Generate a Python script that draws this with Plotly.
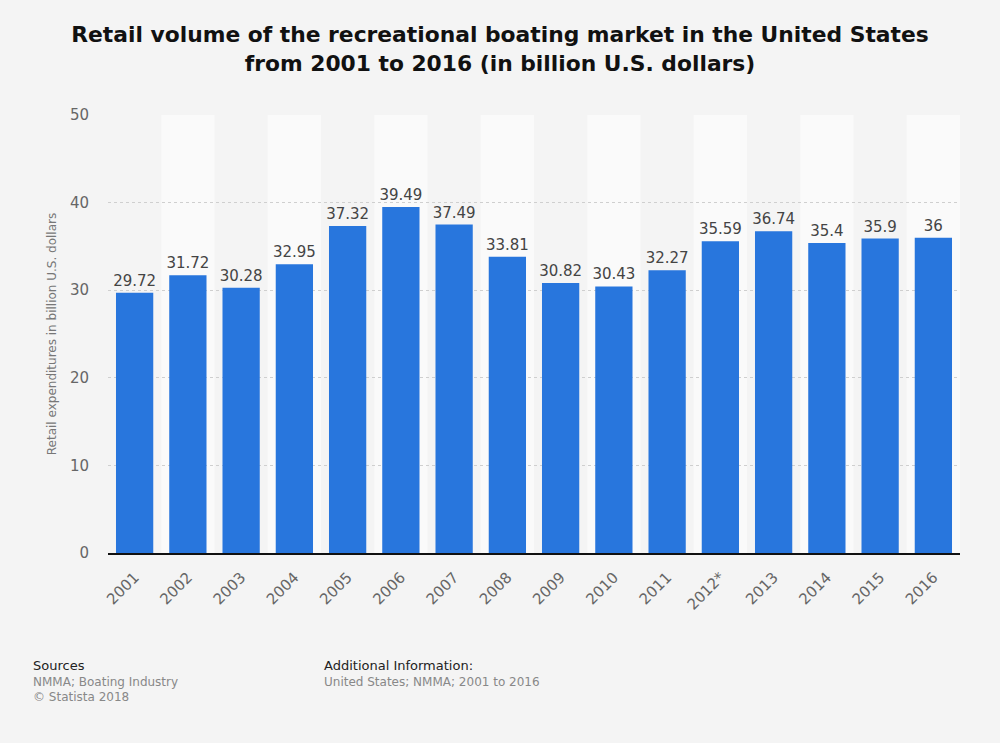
import plotly.graph_objects as go

years = ["2001", "2002", "2003", "2004", "2005", "2006", "2007", "2008",
         "2009", "2010", "2011", "2012*", "2013", "2014", "2015", "2016"]
values = [29.72, 31.72, 30.28, 32.95, 37.32, 39.49, 37.49, 33.81,
          30.82, 30.43, 32.27, 35.59, 36.74, 35.4, 35.9, 36]
labels = [f"{v:g}" for v in values]
y_ticks = [0, 10, 20, 30, 40, 50]

fig = go.Figure()
fig.add_trace(go.Bar(
    x=years, y=values,
    marker=dict(color="#2876dd", line=dict(width=0)),
    text=labels, textposition="outside", constraintext="none",
    textfont=dict(family="DejaVu Sans", size=15, color="#444444"),
    cliponaxis=False,
    hoverinfo="skip",
))

shapes = []
for i in range(len(years)):
    if i % 2 == 1:
        shapes.append(dict(type="rect", xref="x", yref="paper",
                           x0=i - 0.5, x1=i + 0.5, y0=0, y1=1,
                           fillcolor="#fafafa", line=dict(width=0), layer="below"))

fig.update_layout(
    width=1000, height=743,
    paper_bgcolor="#f4f4f4", plot_bgcolor="#f4f4f4",
    margin=dict(l=108, r=40, t=115, b=190),
    bargap=0.3,
    showlegend=False,
    shapes=shapes,
    title=dict(
        text="Retail volume of the recreational boating market in the United States<br>from 2001 to 2016 (in billion U.S. dollars)",
        x=0.5, xanchor="center", y=0.943, yanchor="top",
        font=dict(family="DejaVu Sans", size=21.8, color="#111111", weight="bold"),
    ),
    font=dict(family="DejaVu Sans"),
)
fig.update_xaxes(
    type="category",
    tickangle=-45,
    tickfont=dict(family="DejaVu Sans", size=15, color="#666666"),
    ticklabelstandoff=8,
    showline=True, linecolor="#111111", linewidth=1.5,
    showgrid=False, ticks="",
    range=[-0.5, len(years) - 0.5],
)
fig.update_yaxes(
    range=[0, 50], tickvals=y_ticks,
    tickfont=dict(family="DejaVu Sans", size=15, color="#666666"),
    ticklabelstandoff=18,
    showgrid=True, gridcolor="#cfcfcf", griddash="dot", gridwidth=1,
    zeroline=False, ticks="", ticklen=0,
    title=dict(text="Retail expenditures in billion U.S. dollars",
               font=dict(family="DejaVu Sans", size=12, color="#777777"), standoff=10),
)

annots = [
    (31, 665, "Sources", 13, "#222222"),
    (31, 682, "NMMA; Boating Industry", 12, "#888888"),
    (31, 697, "© Statista 2018", 12, "#888888"),
    (322, 665, "Additional Information:", 13, "#222222"),
    (322, 682, "United States; NMMA; 2001 to 2016", 12, "#888888"),
]
for px, py, t, s, c in annots:
    fig.add_annotation(
        x=(px - 108) / (1000 - 108 - 40), y=1 - (py - 115) / (743 - 115 - 190),
        xref="paper", yref="paper", xanchor="left", yanchor="middle",
        text=t, showarrow=False, font=dict(family="DejaVu Sans", size=s, color=c),
    )

fig.write_html("out.html", config={"displayModeBar": False},
               post_script="document.body.style.margin='0';document.body.style.background='#f4f4f4';")
